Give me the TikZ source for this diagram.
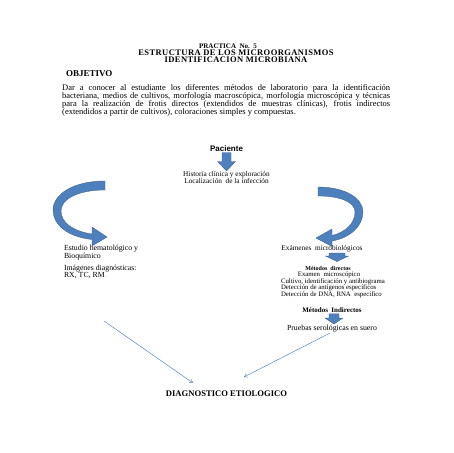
\documentclass[tikz,border=0pt]{standalone}
\usepackage{fontspec}
\setmainfont{Liberation Serif}
\newfontfamily\sansb{Liberation Sans}
\usetikzlibrary{arrows.meta}
\definecolor{arrfill}{HTML}{4E80BD}
\definecolor{arrdraw}{HTML}{385D8A}
\definecolor{lineblue}{HTML}{5B86C0}
\tikzset{
  txt/.style={inner sep=0pt, outer sep=0pt, anchor=base},
  txtl/.style={txt, anchor=base west},
  blockarrow/.style={fill=arrfill, draw=arrdraw, line width=0.3pt},
  conn/.style={draw=lineblue, line width=0.5pt, -{Straight Barb[length=3pt,width=4pt]}}
}
\newcommand{\fs}[1]{\fontsize{#1}{#1}\selectfont}
\begin{document}
\begin{tikzpicture}[x=1pt,y=-1pt]
\useasboundingbox[fill=white] (0,0) rectangle (453,453);

% header
\node[txt, font=\fs{7}\bfseries] (prac) at (228,48.5) {PRACTICA\ \ No.\ \ 5};
\node[txt, font=\fs{8.5}\bfseries\addfontfeature{LetterSpace=5}] (tit1) at (236,55.8) {ESTRUCTURA DE LOS MICROORGANISMOS};
\node[txt, font=\fs{8.5}\bfseries\addfontfeature{LetterSpace=5}] (tit2) at (236,62.8) {IDENTIFICACION MICROBIANA};
\node[txtl, font=\fs{9}\bfseries] (obj) at (66,76.5) {OBJETIVO};
\node[inner sep=0pt, anchor=north west, text width=328pt, align=justify,
      font=\fontsize{8.5}{8.1}\selectfont] (par) at (62,84.3)
 {Dar a conocer al estudiante los diferentes métodos de laboratorio para la identificación\linebreak
  bacteriana, medios de cultivos, morfología macroscópica, morfología microscópica y técnicas\linebreak
  para la realización de frotis directos (extendidos de muestras clínicas), frotis indirectos\linebreak
  (extendidos a partir de cultivos), coloraciones simples y compuestas.};

% paciente
\node[txt, font=\fs{8}\sansb\bfseries] (pac) at (226.5,151) {Paciente};
\draw[blockarrow] (222,152.5) -- (231,152.5) -- (231,161.5) -- (235.5,161.5) -- (226.5,171) -- (217.5,161.5) -- (222,161.5) -- cycle;
\node[txt, font=\fs{7.3}] (hist1) at (226.5,176.6) {Historia clínica y exploración};
\node[txt, font=\fs{7.3}] (hist2) at (226.5,183.6) {Localización\ \ de la infección};

% left curved arrow
\draw[blockarrow] (105,181) .. controls (72,181) and (53,195) .. (53,210)
  .. controls (53,225) and (68,237) .. (92,239.5) -- (92,246) -- (107,237) -- (92,227) -- (92,234)
  .. controls (72,231) and (61,222) .. (61,211)
  .. controls (61,199) and (78,190) .. (105,190) -- cycle;

% right curved arrow
\draw[blockarrow] (318,187) .. controls (345,187) and (363,198) .. (363,212)
  .. controls (363,226) and (350,238) .. (332,241) -- (332,246.5) -- (316,238) -- (332,229) -- (332,235.5)
  .. controls (346,232) and (355,223) .. (355,212)
  .. controls (355,202) and (340,196) .. (318,196) -- cycle;

% left texts
\node[txtl, font=\fs{7.8}] (est1) at (64,250.5) {Estudio hematológico y};
\node[txtl, font=\fs{7.8}] (est2) at (64,258.5) {Bioquímico};
\node[txtl, font=\fs{7.8}] (img1) at (64,270.5) {Imágenes diagnósticas:};
\node[txtl, font=\fs{7.8}] (img2) at (64,277.5) {RX, TC, RM};

% right texts
\node[txt, font=\fs{7.3}] (exa) at (322,250.5) {Exámenes\ \ microbiológicos};
\draw[blockarrow] (329,253) -- (345,253) -- (345,256) -- (348.5,256) -- (337,261.5) -- (325.5,256) -- (329,256) -- cycle;
\node[txt, font=\fs{6}\bfseries] (mdir) at (328,270.3) {Métodos\ \ directos};
\node[txt, font=\fs{6.8}] (l1) at (329,276.5) {Examen\ \ microscópico};
\node[txtl, font=\fs{6.8}] (l2) at (281,283) {Cultivo, identificación y antibiograma};
\node[txtl, font=\fs{6.8}] (l3) at (281,289.5) {Detección de antígenos específicos};
\node[txtl, font=\fs{6.8}] (l4) at (281,296) {Detección de DNA, RNA\ \ específico};
\node[txt, font=\fs{7}\bfseries] (mind) at (332,312.8) {Métodos\ \ Indirectos};
\draw[blockarrow] (329,313.8) -- (339,313.8) -- (339,318) -- (343,318) -- (334,324) -- (325,318) -- (329,318) -- cycle;
\node[txt, font=\fs{7.8}] (prue) at (332,330.5) {Pruebas serológicas en suero};

% diagnostico
\node[txt, font=\fs{8.6}\bfseries] (diag) at (226.5,396) {DIAGNOSTICO ETIOLOGICO};

% connectors
\coordinate (ls) at (104,321);
\coordinate (le) at (193,383);
\coordinate (rs) at (330,333);
\coordinate (re) at (244,377);
\draw[conn] (ls) -- (le);
\draw[conn] (rs) -- (re);
\end{tikzpicture}
\end{document}
